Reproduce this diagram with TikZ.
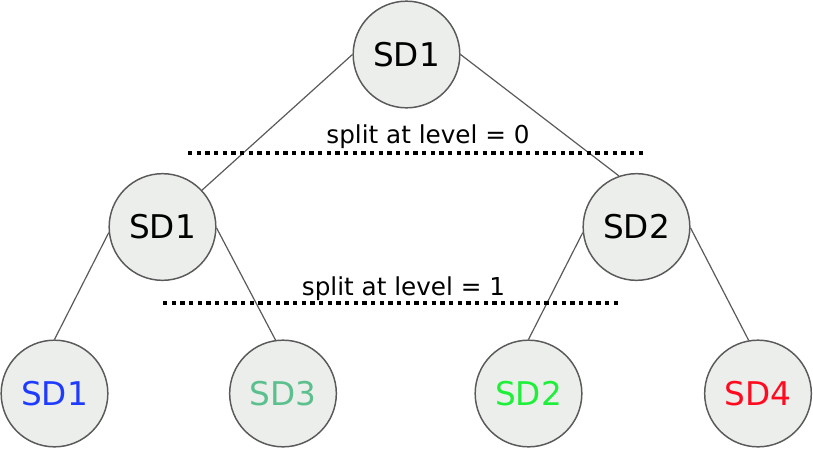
\documentclass[tikz,border=0pt]{standalone}
\usepackage{fontspec}
\setmainfont{DejaVu Sans}
\definecolor{nodefill}{HTML}{ECEEEB}
\definecolor{nodeline}{HTML}{5A5A5A}
\definecolor{sdblue}{HTML}{1E3BFF}
\definecolor{sdsea}{HTML}{5CC08E}
\definecolor{sdgreen}{HTML}{1EF03A}
\definecolor{sdred}{HTML}{FF0A1E}
\tikzset{
	sd/.style={circle, draw=nodeline, fill=nodefill, line width=1.1pt, minimum size=80pt, inner sep=0pt, font=\fontsize{24.5}{24.5}\selectfont},
	edge/.style={draw=nodeline, line width=0.9pt},
	cut/.style={line width=2.8pt, dash pattern=on 3.2pt off 3.3pt},
	cutlabel/.style={anchor=base, font=\fontsize{18.5}{18.5}\selectfont}
}

\begin{document}
\begin{tikzpicture}[x=0.75pt,y=-0.75pt]
	\useasboundingbox (0,0) rectangle (813,450);
	% tree of splits
	\node[sd] (root) at (406.5,54.5) {SD1};
	\node[sd] (l) at (162.5,227) {SD1};
	\node[sd] (r) at (636.5,227) {SD2};
	\node[sd, text=sdblue] (ll) at (54.5,393.5) {SD1};
	\node[sd, text=sdsea] (lr) at (283,393.5) {SD3};
	\node[sd, text=sdgreen] (rl) at (528.5,393.5) {SD2};
	\node[sd, text=sdred] (rr) at (758,393.5) {SD4};
	\draw[edge] (root.west) -- (l.43);
	\draw[edge] (root.east) -- (r.109);
	\draw[edge] (l.186) -- (ll.north);
	\draw[edge] (l.-1) -- (lr.98);
	\draw[edge] (r.186) -- (rl.north);
	\draw[edge] (r.-1) -- (rr.100);
	% levels
	\coordinate (c0a) at (188,153);
	\coordinate (c0b) at (643,153);
	\coordinate (c1a) at (163,303);
	\coordinate (c1b) at (618,303);
	\draw[cut] (c0a) -- (c0b);
	\draw[cut] (c1a) -- (c1b);
	\node[cutlabel] (lbl0) at (428,143) {split at level = 0};
	\node[cutlabel] (lbl1) at (403.5,295) {split at level = 1};
\end{tikzpicture}
\end{document}
